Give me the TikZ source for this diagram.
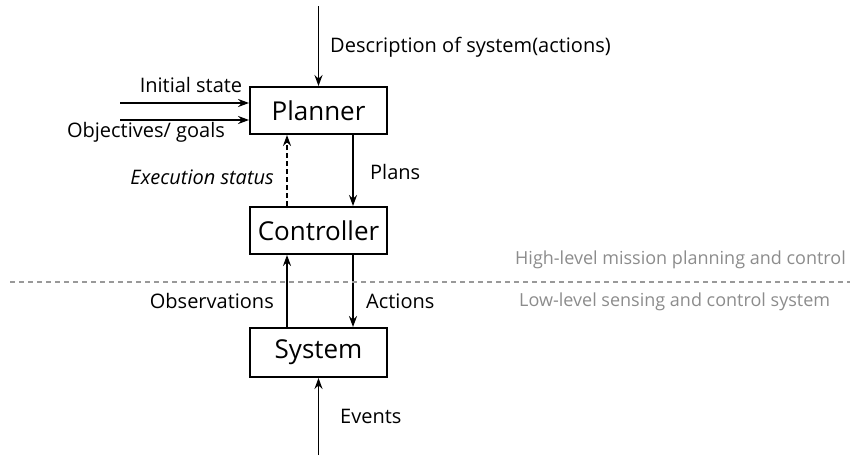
\documentclass[tikz,border=0pt]{standalone}
\usepackage{fontspec}
\setmainfont{Open Sans}
\usetikzlibrary{arrows.meta}
\begin{document}
\begin{tikzpicture}[x=1pt,y=-1pt,
  block/.style={draw,line width=1.9pt,minimum width=137pt,inner sep=0pt,font=\fontsize{26}{30}\selectfont},
  flow/.style={line width=1.6pt,-{Stealth[length=11pt,width=8pt]}},
  lbl/.style={font=\fontsize{20}{24}\selectfont,inner sep=0pt},
  zone/.style={font=\fontsize{18}{21}\selectfont,text=black!45,inner sep=0pt}]
\useasboundingbox (0,0) rectangle (850,455);
% main blocks
\node[block,minimum height=47pt] (planner) at (318.5,110.5) {Planner};
\node[block,minimum height=47pt] (controller) at (318.5,230.5) {Controller};
\node[block,minimum height=49pt] (system) at (318.5,352.5) {System};
% free ends
\coordinate (top) at (318.5,6);
\coordinate (bottom) at (318.5,455);
\coordinate (init) at (120,103);
\coordinate (goals) at (120,120);
% inputs to the planner
\draw[flow] (top) -- (planner.north);
\draw[flow] (init) -- (init -| planner.west);
\draw[flow] (goals) -- (goals -| planner.west);
\node[lbl,anchor=west] (desc) at (330,47) {Description of system(actions)};
\node[lbl] (initlbl) at (191,85) {Initial state};
\node[lbl] (goallbl) at (146,132) {Objectives/ goals};
% planner <-> controller
\draw[flow,dash pattern=on 5pt off 3pt] ([xshift=-31.5pt]controller.north) -- ([xshift=-31.5pt]planner.south);
\draw[flow] ([xshift=34.5pt]planner.south) -- ([xshift=34.5pt]controller.north);
\node[lbl,anchor=east] (status) at (274,177) {\itshape Execution status};
\node[lbl,anchor=west] (plans) at (370,172) {Plans};
% controller <-> system
\draw[flow] ([xshift=-31.5pt]system.north) -- ([xshift=-31.5pt]controller.south);
\draw[flow] ([xshift=34.5pt]controller.south) -- ([xshift=34.5pt]system.north);
\node[lbl,anchor=east] (obs) at (274,301) {Observations};
\node[lbl,anchor=west] (act) at (366,301) {Actions};
% external events
\draw[flow] (bottom) -- (system.south);
\node[lbl,anchor=west] (events) at (340,416) {Events};
% layer boundary
\coordinate (sepl) at (10,282);
\coordinate (sepr) at (850,282);
\draw[black!40,line width=1.3pt,dash pattern=on 5pt off 4pt] (sepl) -- (sepr);
\node[zone,anchor=east] (high) at (846,260) {High-level mission planning and control};
\node[zone,anchor=west] (low) at (519,302) {Low-level sensing and control system};
\end{tikzpicture}
\end{document}
